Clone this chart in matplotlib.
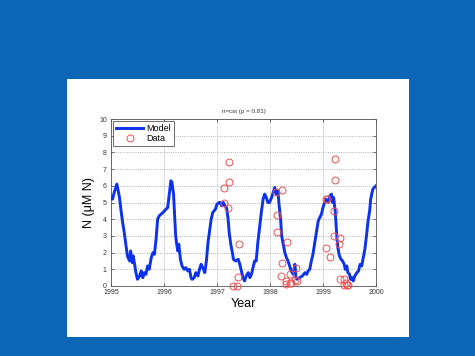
import matplotlib
matplotlib.use("Agg")
import matplotlib.pyplot as plt

plt.rcParams['font.family'] = ['Liberation Sans', 'DejaVu Sans']

# Model series (year, N)
model_t = [1995.00, 1995.03, 1995.06, 1995.09, 1995.11, 1995.13, 1995.16, 1995.19, 1995.22, 1995.25,
           1995.28, 1995.31, 1995.35, 1995.37, 1995.40, 1995.42, 1995.45, 1995.47, 1995.50, 1995.54,
           1995.57, 1995.60, 1995.63, 1995.66, 1995.69, 1995.72, 1995.76, 1995.79, 1995.82, 1995.85,
           1995.88, 1995.91, 1995.98, 1996.04, 1996.07, 1996.10, 1996.13, 1996.15, 1996.18, 1996.20,
           1996.22, 1996.24, 1996.26, 1996.28, 1996.31, 1996.34, 1996.38, 1996.41, 1996.45, 1996.48,
           1996.51, 1996.53, 1996.57, 1996.60, 1996.64, 1996.67, 1996.70, 1996.73, 1996.77, 1996.80,
           1996.83, 1996.86, 1996.89, 1996.92, 1996.97, 1997.00, 1997.04, 1997.06, 1997.09, 1997.12,
           1997.15, 1997.18, 1997.21, 1997.23, 1997.26, 1997.29, 1997.31, 1997.35, 1997.40, 1997.43,
           1997.46, 1997.49, 1997.52, 1997.55, 1997.59, 1997.62, 1997.65, 1997.68, 1997.71, 1997.74,
           1997.77, 1997.81, 1997.84, 1997.87, 1997.90, 1997.93, 1997.96, 1997.99, 1998.03, 1998.06,
           1998.09, 1998.12, 1998.15, 1998.17, 1998.20, 1998.22, 1998.25, 1998.28, 1998.31, 1998.34,
           1998.37, 1998.40, 1998.44, 1998.47, 1998.49, 1998.51, 1998.56, 1998.61, 1998.66, 1998.69,
           1998.72, 1998.75, 1998.78, 1998.81, 1998.84, 1998.88, 1998.91, 1998.94, 1998.97, 1999.00,
           1999.03, 1999.06, 1999.10, 1999.13, 1999.16, 1999.18, 1999.20, 1999.23, 1999.26, 1999.28,
           1999.31, 1999.34, 1999.37, 1999.40, 1999.42, 1999.45, 1999.47, 1999.50, 1999.52, 1999.55,
           1999.57, 1999.60, 1999.64, 1999.67, 1999.70, 1999.73, 1999.76, 1999.79, 1999.82, 1999.85,
           1999.88, 1999.90, 1999.94, 2000.00]
model_n = [5.3, 5.2, 5.6, 5.9, 6.1, 5.8, 5.3, 4.5, 3.8, 3.2,
           2.5, 1.8, 1.5, 2.1, 1.4, 1.8, 1.2, 0.8, 0.4, 0.6,
           0.9, 0.5, 0.8, 0.7, 1.2, 1.0, 1.7, 2.0, 1.9, 2.8,
           4.0, 4.2, 4.4, 4.6, 4.7, 5.5, 6.3, 6.2, 5.5, 4.2,
           3.0, 2.5, 2.1, 2.5, 1.6, 1.2, 1.0, 1.1, 0.9, 1.0,
           0.5, 0.4, 0.5, 0.8, 0.6, 1.0, 1.3, 1.1, 0.8, 1.5,
           2.6, 3.3, 4.0, 4.4, 4.6, 4.9, 5.0, 5.0, 4.8, 5.0,
           4.8, 4.7, 4.0, 3.2, 2.5, 2.0, 1.6, 1.5, 1.6, 1.3,
           0.9, 0.5, 0.3, 0.6, 0.8, 0.5, 0.7, 1.1, 1.5, 1.5,
           2.6, 3.7, 4.5, 5.2, 5.5, 5.3, 5.0, 5.0, 5.3, 5.6,
           5.9, 5.5, 5.7, 4.9, 4.0, 3.0, 2.5, 2.0, 1.7, 1.5,
           1.2, 0.9, 0.7, 1.3, 0.5, 0.4, 0.5, 0.6, 0.8, 0.7,
           0.9, 1.0, 1.5, 1.9, 2.5, 3.3, 3.9, 4.1, 4.3, 4.7,
           5.0, 5.2, 5.0, 5.4, 5.5, 5.0, 5.3, 4.5, 3.0, 2.3,
           1.8, 1.6, 1.5, 1.3, 1.0, 1.2, 0.8, 0.7, 0.4, 0.5,
           0.3, 0.6, 0.8, 0.9, 1.3, 1.2, 1.7, 2.2, 3.0, 3.9,
           4.5, 5.2, 5.8, 6.0]

# Observations
data_t = [1997.125, 1997.14, 1997.21, 1997.23, 1997.23, 1997.41, 1997.40, 1997.31, 1997.38,
          1998.11, 1998.23, 1998.13, 1998.13, 1998.32, 1998.23, 1998.21, 1998.30, 1998.31,
          1998.37, 1998.39, 1998.37, 1998.47, 1998.49, 1998.50,
          1999.05, 1999.07, 1999.05, 1999.13, 1999.22, 1999.22, 1999.21, 1999.21, 1999.32,
          1999.30, 1999.32, 1999.40, 1999.40, 1999.43, 1999.46, 1999.48]
data_n = [5.86, 5.0, 4.7, 6.22, 7.42, 2.52, 0.56, 0.0, 0.0,
          5.64, 5.72, 4.28, 3.26, 2.64, 1.4, 0.62, 0.28, 0.12,
          0.16, 0.18, 0.7, 0.36, 1.08, 0.32,
          5.2, 5.22, 2.26, 1.72, 7.6, 6.32, 4.52, 3.02, 2.88,
          2.54, 0.42, 0.4, 0.06, 0.2, 0.06, 0.08]

x_ticks = [1995, 1996, 1997, 1998, 1999, 2000]
y_ticks = list(range(0, 11))

W, H = 475, 356
fig = plt.figure(figsize=(W / 100, H / 100), dpi=100)
fig.patch.set_facecolor('#0b66b5')

# white slide panel (background axes)
bg = fig.add_axes([67 / W, 1 - 337 / H, (409 - 67) / W, (337 - 79) / H], zorder=0)
bg.set_facecolor('white')
bg.set_xticks([])
bg.set_yticks([])
for s in bg.spines.values():
    s.set_visible(False)

ax = fig.add_axes([111 / W, 1 - 286 / H, (376 - 111) / W, (286 - 119) / H], zorder=1)
ax.set_facecolor('white')
ax.plot(model_t, model_n, color='#0a32f0', lw=2.1, label='Model', zorder=3)
ax.plot(data_t, data_n, 'o', mfc='none', mec='#f05050', mew=0.7, ms=5, label='Data',
        zorder=4, clip_on=False)

ax.set_xlim(1995, 2000)
ax.set_ylim(0, 10)
ax.set_xticks(x_ticks)
ax.set_yticks(y_ticks)
ax.set_xticklabels([str(v) for v in x_ticks])
ax.tick_params(direction='in', labelsize=5, length=2, width=0.5, top=True, right=True, colors='#333333')
ax.tick_params(axis='x', pad=2.5)
ax.tick_params(axis='y', pad=3)
ax.grid(True, linestyle=':', color='#999999', linewidth=0.6)
for s in ax.spines.values():
    s.set_linewidth(0.6)
    s.set_color('#555555')

ax.set_title('n=cst (ρ = 0.81)', fontsize=4.5, pad=4, color='#333333')
ax.set_xlabel('Year', fontsize=9, labelpad=1)
ax.set_ylabel('N (μM N)', fontsize=9, labelpad=3)

leg = ax.legend(loc='upper left', fontsize=6.5, frameon=True, fancybox=False, borderpad=0.3,
                handlelength=3.0, labelspacing=0.15, borderaxespad=0.25, handletextpad=0.4)
leg.get_frame().set_edgecolor('#555555')
leg.get_frame().set_linewidth(0.6)
leg.get_frame().set_alpha(1)

fig.savefig('out.png', dpi=100, facecolor=fig.get_facecolor())
